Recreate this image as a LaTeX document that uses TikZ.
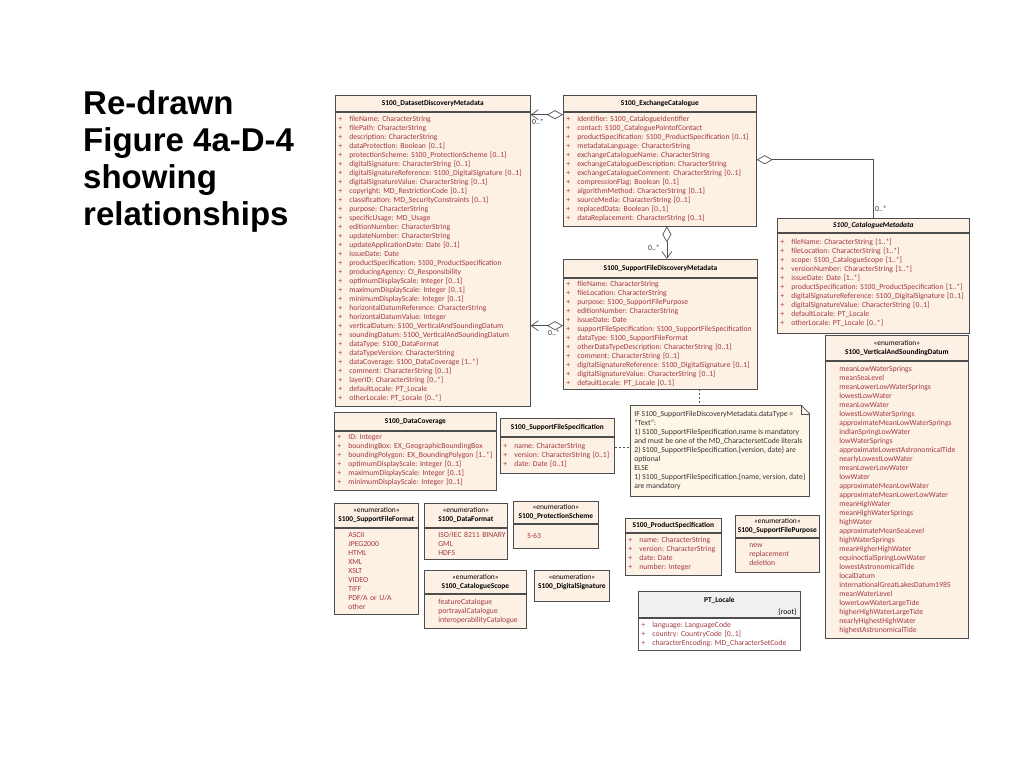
\documentclass[tikz,border=0pt]{standalone}
\usepackage{fontspec}
\setmainfont{Carlito}
\newfontfamily\titlefont{Liberation Sans}
\usetikzlibrary{arrows.meta, positioning, calc}
\definecolor{boxfill}{HTML}{FDF0E4}
\definecolor{boxline}{HTML}{4D4D4D}
\definecolor{attrred}{HTML}{A33A3F}
\definecolor{linegray}{HTML}{505050}
\definecolor{notefill}{HTML}{FEF7E7}
\definecolor{notetext}{HTML}{333333}
\definecolor{rootgray}{HTML}{F0F0F0}
\frenchspacing
\newcommand{\umlfont}{\fontsize{7.7}{9}\selectfont}
\newcommand{\hdrfont}{\fontsize{7.4}{9}\selectfont}
\newcommand{\uattr}[1]{\mbox{\hspace*{3pt}\makebox[11pt][l]{+}#1}}
\newcommand{\ulit}[1]{\mbox{\hspace*{14pt}#1}}

\begin{document}
\begin{tikzpicture}[
    x=1pt, y=-1pt,
    hdr/.style n args={2}{
        rectangle,
        draw=boxline,
        line width=0.7pt,
        fill=boxfill,
        anchor=north west,
        inner sep=0pt,
        minimum width=#1,
        minimum height=#2,
        align=center,
        font=\hdrfont\bfseries
    },
    enumhdr/.style n args={2}{
        hdr={#1}{#2},
        font=\hdrfont
    },
    body/.style n args={2}{
        rectangle,
        draw=boxline,
        line width=0.7pt,
        fill=boxfill,
        anchor=north west,
        inner sep=0pt,
        text width=#1,
        minimum height=#2,
        align=left,
        font=\umlfont,
        text=attrred
    },
    notebox/.style={
        rectangle,
        draw=boxline,
        line width=0.7pt,
        fill=notefill,
        anchor=north west,
        align=left,
        inner xsep=4pt,
        inner ysep=6pt,
        font=\umlfont,
        text=notetext
    },
    mult/.style={
        font=\umlfont,
        text=notetext,
        inner sep=0pt
    },
    aggr/.style={
        draw=linegray,
        line width=0.7pt,
        arrows={Diamond[open,length=16pt,width=9pt]-Straight Barb[length=7pt,width=10pt]}
    },
    aggrplain/.style={
        draw=linegray,
        line width=0.7pt,
        arrows={Diamond[open,length=16pt,width=9pt]-}
    },
    noteline/.style={
        draw=linegray,
        line width=0.7pt,
        dash pattern=on 2pt off 2pt
    }
]
\useasboundingbox (0,0) rectangle (1024,768);

% Title
\node[anchor=north west, inner sep=0pt, align=left,
      font=\titlefont\fontsize{33}{37}\selectfont\bfseries] (title) at (83,90)
    {Re-drawn\\Figure 4a-D-4\\showing\\relationships};

% S100_DatasetDiscoveryMetadata
\node[hdr={195pt}{16pt}] (ddmH) at (335,95) {S100\_DatasetDiscoveryMetadata};
\node[body={195pt}{294pt}] (ddmB) at (ddmH.south west) {%
\uattr{fileName: CharacterString}\\
\uattr{filePath: CharacterString}\\
\uattr{description: CharacterString}\\
\uattr{dataProtection: Boolean [0..1]}\\
\uattr{protectionScheme: S100\_ProtectionScheme [0..1]}\\
\uattr{digitalSignature: CharacterString [0..1]}\\
\uattr{digitalSignatureReference: S100\_DigitalSignature [0..1]}\\
\uattr{digitalSignatureValue: CharacterString [0..1]}\\
\uattr{copyright: MD\_RestrictionCode [0..1]}\\
\uattr{classification: MD\_SecurityConstraints [0..1]}\\
\uattr{purpose: CharacterString}\\
\uattr{specificUsage: MD\_Usage}\\
\uattr{editionNumber: CharacterString}\\
\uattr{updateNumber: CharacterString}\\
\uattr{updateApplicationDate: Date [0..1]}\\
\uattr{issueDate: Date}\\
\uattr{productSpecification: S100\_ProductSpecification}\\
\uattr{producingAgency: CI\_Responsibility}\\
\uattr{optimumDisplayScale: Integer [0..1]}\\
\uattr{maximumDisplayScale: Integer [0..1]}\\
\uattr{minimumDisplayScale: Integer [0..1]}\\
\uattr{horizontalDatumReference: CharacterString}\\
\uattr{horizontalDatumValue: Integer}\\
\uattr{verticalDatum: S100\_VerticalAndSoundingDatum}\\
\uattr{soundingDatum: S100\_VerticalAndSoundingDatum}\\
\uattr{dataType: S100\_DataFormat}\\
\uattr{dataTypeVersion: CharacterString}\\
\uattr{dataCoverage: S100\_DataCoverage [1..*]}\\
\uattr{comment: CharacterString [0..1]}\\
\uattr{layerID: CharacterString [0..*]}\\
\uattr{defaultLocale: PT\_Locale}\\
\uattr{otherLocale: PT\_Locale [0..*]}};

% S100_ExchangeCatalogue
\node[hdr={193pt}{16pt}] (ecH) at (563,95) {S100\_ExchangeCatalogue};
\node[body={193pt}{114pt}] (ecB) at (ecH.south west) {%
\uattr{identifier: S100\_CatalogueIdentifier}\\
\uattr{contact: S100\_CataloguePointofContact}\\
\uattr{productSpecification: S100\_ProductSpecification [0..1]}\\
\uattr{metadataLanguage: CharacterString}\\
\uattr{exchangeCatalogueName: CharacterString}\\
\uattr{exchangeCatalogueDescription: CharacterString}\\
\uattr{exchangeCatalogueComment: CharacterString [0..1]}\\
\uattr{compressionFlag: Boolean [0..1]}\\
\uattr{algorithmMethod: CharacterString [0..1]}\\
\uattr{sourceMedia: CharacterString [0..1]}\\
\uattr{replacedData: Boolean [0..1]}\\
\uattr{dataReplacement: CharacterString [0..1]}};

% S100_CatalogueMetadata
\node[hdr={192pt}{14pt}] (cmH) at (777,218) {\textit{S100\_CatalogueMetadata}};
\node[body={192pt}{100pt}] (cmB) at (cmH.south west) {%
\uattr{fileName: CharacterString [1..*]}\\
\uattr{fileLocation: CharacterString [1..*]}\\
\uattr{scope: S100\_CatalogueScope [1..*]}\\
\uattr{versionNumber: CharacterString [1..*]}\\
\uattr{issueDate: Date [1..*]}\\
\uattr{productSpecification: S100\_ProductSpecification [1..*]}\\
\uattr{digitalSignatureReference: S100\_DigitalSignature [0..1]}\\
\uattr{digitalSignatureValue: CharacterString [0..1]}\\
\uattr{defaultLocale: PT\_Locale}\\
\uattr{otherLocale: PT\_Locale [0..*]}};

% S100_SupportFileDiscoveryMetadata
\node[hdr={194pt}{18pt}] (sfdmH) at (563,259) {S100\_SupportFileDiscoveryMetadata};
\node[body={194pt}{111pt}] (sfdmB) at (sfdmH.south west) {%
\uattr{fileName: CharacterString}\\
\uattr{fileLocation: CharacterString}\\
\uattr{purpose: S100\_SupportFilePurpose}\\
\uattr{editionNumber: CharacterString}\\
\uattr{issueDate: Date}\\
\uattr{supportFileSpecification: S100\_SupportFileSpecification}\\
\uattr{dataType: S100\_SupportFileFormat}\\
\uattr{otherDataTypeDescription: CharacterString [0..1]}\\
\uattr{comment: CharacterString [0..1]}\\
\uattr{digitalSignatureReference: S100\_DigitalSignature [0..1]}\\
\uattr{digitalSignatureValue: CharacterString [0..1]}\\
\uattr{defaultLocale: PT\_Locale [0..1]}};

% S100_VerticalAndSoundingDatum
\node[enumhdr={143pt}{25pt}] (vsdH) at (825,335) {«enumeration»\\\textbf{S100\_VerticalAndSoundingDatum}};
\node[body={143pt}{277pt}] (vsdB) at (vsdH.south west) {%
\ulit{meanLowWaterSprings}\\
\ulit{meanSeaLevel}\\
\ulit{meanLowerLowWaterSprings}\\
\ulit{lowestLowWater}\\
\ulit{meanLowWater}\\
\ulit{lowestLowWaterSprings}\\
\ulit{approximateMeanLowWaterSprings}\\
\ulit{indianSpringLowWater}\\
\ulit{lowWaterSprings}\\
\ulit{approximateLowestAstronomicalTide}\\
\ulit{nearlyLowestLowWater}\\
\ulit{meanLowerLowWater}\\
\ulit{lowWater}\\
\ulit{approximateMeanLowWater}\\
\ulit{approximateMeanLowerLowWater}\\
\ulit{meanHighWater}\\
\ulit{meanHighWaterSprings}\\
\ulit{highWater}\\
\ulit{approximateMeanSeaLevel}\\
\ulit{highWaterSprings}\\
\ulit{meanHigherHighWater}\\
\ulit{equinoctialSpringLowWater}\\
\ulit{lowestAstronomicalTide}\\
\ulit{localDatum}\\
\ulit{internationalGreatLakesDatum1985}\\
\ulit{meanWaterLevel}\\
\ulit{lowerLowWaterLargeTide}\\
\ulit{higherHighWaterLargeTide}\\
\ulit{nearlyHighestHighWater}\\
\ulit{highestAstronomicalTide}};

% S100_DataCoverage
\node[hdr={162pt}{18pt}] (dcH) at (334,412) {S100\_DataCoverage};
\node[body={162pt}{59pt}] (dcB) at (dcH.south west) {%
\uattr{ID: Integer}\\
\uattr{boundingBox: EX\_GeographicBoundingBox}\\
\uattr{boundingPolygon: EX\_BoundingPolygon [1..*]}\\
\uattr{optimumDisplayScale: Integer [0..1]}\\
\uattr{maximumDisplayScale: Integer [0..1]}\\
\uattr{minimumDisplayScale: Integer [0..1]}};

% S100_SupportFileSpecification
\node[hdr={114pt}{18pt}] (sfsH) at (500,418) {S100\_SupportFileSpecification};
\node[body={114pt}{36pt}] (sfsB) at (sfsH.south west) {%
\uattr{name: CharacterString}\\
\uattr{version: CharacterString [0..1]}\\
\uattr{date: Date [0..1]}};

% Note
\node[notebox] (note) at (630,405) {IF S100\_SupportFileDiscoveryMetadata.dataType =\\
``Text'':\\
1) S100\_SupportFileSpecification.name is mandatory\\
and must be one of the MD\_CharactersetCode literals\\
2) S100\_SupportFileSpecification.\{version, date\} are\\
optional\\
ELSE\\
1) S100\_SupportFileSpecification.\{name, version, date\}\\
are mandatory};
\fill[white] ($(note.north east)+(1,-1)$) -- ($(note.north east)+(-9,-1)$) -- ($(note.north east)+(1,9)$) -- cycle;
\draw[boxline, line width=0.7pt] ($(note.north east)+(-9,0)$) -- ($(note.north east)+(0,9)$);
\draw[boxline, line width=0.5pt] ($(note.north east)+(-9,0)$) -- ++(0,9) -- ++(9,0);

% Enumerations, bottom left
\node[enumhdr={84pt}{24pt}] (sffH) at (334,503) {«enumeration»\\\textbf{S100\_SupportFileFormat}};
\node[body={84pt}{86pt}] (sffB) at (sffH.south west) {%
\ulit{ASCII}\\
\ulit{JPEG2000}\\
\ulit{HTML}\\
\ulit{XML}\\
\ulit{XSLT}\\
\ulit{VIDEO}\\
\ulit{TIFF}\\
\ulit{PDF/A or U/A}\\
\ulit{other}};

\node[enumhdr={83pt}{24pt}] (dfH) at (424,503) {«enumeration»\\\textbf{S100\_DataFormat}};
\node[body={83pt}{31pt}] (dfB) at (dfH.south west) {%
\ulit{ISO/IEC 8211 BINARY}\\
\ulit{GML}\\
\ulit{HDF5}};

\node[enumhdr={85pt}{22pt}] (psH) at (513,501) {«enumeration»\\\textbf{S100\_ProtectionScheme}};
\node[body={85pt}{24pt}] (psB) at (psH.south west) {%
\ulit{S-63}};

\node[enumhdr={102pt}{23pt}] (csH) at (424,570) {«enumeration»\\\textbf{S100\_CatalogueScope}};
\node[body={102pt}{34pt}] (csB) at (csH.south west) {%
\ulit{featureCatalogue}\\
\ulit{portrayalCatalogue}\\
\ulit{interoperabilityCatalogue}};

\node[enumhdr={75pt}{31pt}] (dsH) at (534,570) {«enumeration»\\\textbf{S100\_DigitalSignature}\\\mbox{}};

% S100_ProductSpecification
\node[hdr={96pt}{14pt}] (prodH) at (625,518) {S100\_ProductSpecification};
\node[body={96pt}{42pt}] (prodB) at (prodH.south west) {%
\uattr{name: CharacterString}\\
\uattr{version: CharacterString}\\
\uattr{date: Date}\\
\uattr{number: Integer}};

% S100_SupportFilePurpose
\node[enumhdr={84pt}{22pt}] (sfpH) at (735,515) {«enumeration»\\\textbf{S100\_SupportFilePurpose}};
\node[body={84pt}{34pt}] (sfpB) at (sfpH.south west) {%
\ulit{new}\\
\ulit{replacement}\\
\ulit{deletion}};

% PT_Locale
\node[hdr={162pt}{26pt}, fill=rootgray] (ptH) at (638,591) {PT\_Locale\\\mbox{}};
\node[font=\umlfont, anchor=east, inner sep=0pt] (ptRoot) at ($(ptH.south east)+(-4,-5)$) {\{root\}};
\node[body={162pt}{32pt}, fill=white] (ptB) at (ptH.south west) {%
\uattr{language: LanguageCode}\\
\uattr{country: CountryCode [0..1]}\\
\uattr{characterEncoding: MD\_CharacterSetCode}};

% Connections
\coordinate (ecDdm) at ($(ecB.north west)+(0,3)$);
\draw[aggr] (ecDdm) -- (ecDdm -| ddmB.east);
\node[mult] (mEcDdm) at (538,122) {0..*};

\coordinate (ecCm) at ($(ecB.north east)+(0,48)$);
\draw[aggrplain] (ecCm) -| (cmH.north);
\node[mult] (mEcCm) at (881,209) {0..*};

\coordinate (ecSfdm) at ($(ecB.south)+(7,0)$);
\draw[aggr] (ecSfdm) -- (ecSfdm |- sfdmH.north);
\node[mult] (mEcSfdm) at (654,248) {0..*};

\coordinate (sfdmDdm) at ($(sfdmB.north west)+(0,48)$);
\draw[aggr] (sfdmDdm) -- (sfdmDdm -| ddmB.east);
\node[mult] (mSfdmDdm) at (554,333) {0..*};

% Note links
\coordinate (sfsNote) at ($(sfsB.north east)+(0,11)$);
\draw[noteline] (sfsNote) -- (sfsNote -| note.west);
\coordinate (sfdmNote) at ($(note.north)+(-21,0)$);
\draw[noteline] (sfdmNote |- sfdmB.south) -- (sfdmNote);

\end{tikzpicture}
\end{document}
